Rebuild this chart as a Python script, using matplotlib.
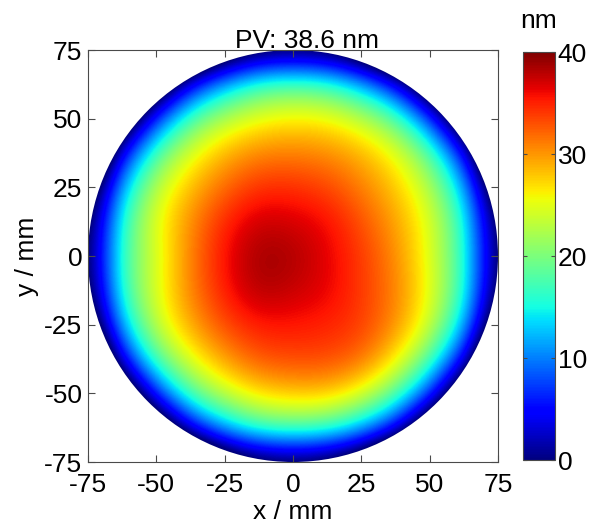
import matplotlib
matplotlib.use("Agg")
import matplotlib.pyplot as plt
from matplotlib.patches import Circle
import numpy as np

plt.rcParams['font.family'] = ['Liberation Sans', 'DejaVu Sans']
plt.rcParams['axes.unicode_minus'] = False

# surface height (nm) on a 12.5 mm grid, rows from y=75 down to y=-75
# (points on and outside the aperture rim are only there so the edge fades to dark blue)
grid_mm = [-75, -62.5, -50, -37.5, -25, -12.5, 0, 12.5, 25, 37.5, 50, 62.5, 75]
height_nm = [
    [-16, -16, -16, -16, -8, -4, -3, -4, -8, -16, -16, -16, -16],
    [-16, -16, -9, 4.5, 12, 17, 18, 17, 12, 4.5, -9, -16, -16],
    [-16, -9, 7, 18, 23, 25.5, 26.5, 26, 23.5, 18.5, 7.5, -9, -16],
    [-16, 4.5, 18, 25, 28.8, 30.8, 31, 30.5, 28.8, 25.5, 18.5, 5, -16],
    [-8, 12.5, 23.5, 28.5, 32, 34.5, 34.5, 33.5, 31, 28, 23, 12.5, -8],
    [-4, 16.5, 25.5, 30.5, 35, 37.5, 37, 36, 33, 29.5, 25, 16, -4],
    [-3, 17.5, 24.5, 31, 36, 39, 38.5, 36.5, 34, 30.5, 25, 16.5, -3],
    [-4, 17, 25, 31, 35.5, 38.5, 37.5, 36.5, 34, 31, 25.5, 16.5, -4],
    [-8, 13, 24, 29.5, 33.5, 35.5, 35.5, 35, 34, 30.5, 24.5, 13, -8],
    [-16, 4.5, 18.5, 25.5, 30, 33, 33.5, 33.5, 32, 27, 18.5, 4.5, -16],
    [-16, -9, 7, 18.5, 24, 27.5, 28.5, 28.5, 25.5, 19, 7.5, -9, -16],
    [-16, -16, -9, 4.5, 12.5, 17.5, 18.5, 17.5, 13, 5, -9, -16, -16],
    [-16, -16, -16, -16, -8, -4, -3, -4, -8, -16, -16, -16, -16],
]
ticks_mm = [-75, -50, -25, 0, 25, 50, 75]
cbar_ticks = [0, 10, 20, 30, 40]
title = "PV: 38.6 nm"

fs = 19
edge = '#4a4a4a'

fig = plt.figure(figsize=(5.92, 5.27), dpi=100)
ax = fig.add_axes([0.1486, 0.1233, 0.6926, 0.7818])
cax = fig.add_axes([0.8834, 0.1271, 0.054, 0.7742])

half = (grid_mm[1] - grid_mm[0]) / 2
ext = (grid_mm[0] - half, grid_mm[-1] + half, grid_mm[0] - half, grid_mm[-1] + half)
im = ax.imshow(np.array(height_nm), extent=ext, origin='upper', cmap='jet',
               vmin=0, vmax=40, interpolation='bicubic', interpolation_stage='data',
               aspect='auto')
im.set_clip_path(Circle((0, 0), 75, transform=ax.transData))

ax.set_xlim(-75, 75)
ax.set_ylim(-75, 75)
ax.set_xticks(ticks_mm)
ax.set_yticks(ticks_mm)
ax.tick_params(direction='in', top=True, right=True, length=5, width=0.8,
               color=edge, labelsize=fs)
ax.tick_params(axis='x', pad=8)
ax.tick_params(axis='y', pad=4)
for s in ax.spines.values():
    s.set_color(edge)
    s.set_linewidth(0.8)
ax.set_xlabel("x / mm", fontsize=fs, labelpad=2)
ax.set_ylabel("y / mm", fontsize=fs, labelpad=4)
ax.text(0.535, 1.004, title, transform=ax.transAxes, ha='center', va='baseline',
        fontsize=fs)

cb = fig.colorbar(im, cax=cax, ticks=cbar_ticks)
cb.outline.set_edgecolor(edge)
cb.outline.set_linewidth(0.8)
cax.tick_params(direction='in', left=True, right=True, length=3, width=0.8,
                color=edge, labelsize=fs, pad=2)
cax.set_title("nm", fontsize=fs, pad=17)

fig.savefig("out.png", dpi=100)
